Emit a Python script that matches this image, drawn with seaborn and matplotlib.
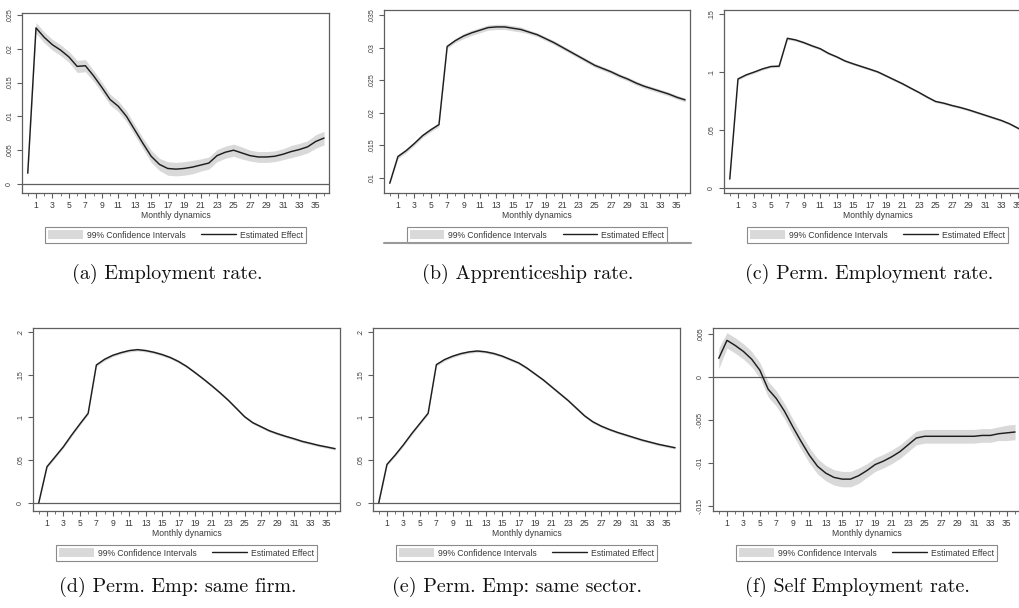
import matplotlib
matplotlib.use("Agg")
import matplotlib.pyplot as plt
from matplotlib.lines import Line2D
from matplotlib.patches import Patch
import seaborn as sns

sns.set_style("ticks")
plt.rcParams['font.family'] = ['Liberation Sans', 'DejaVu Sans']

# ---------------------------------------------------------------
# Data (month 0..36)
# ---------------------------------------------------------------
months = list(range(37))
label_months = list(range(1, 36, 2))
minor_months = list(range(0, 37, 2))

emp = [0.0016, 0.0231, 0.0217, 0.0206, 0.0198, 0.0188, 0.0174, 0.0175, 0.0160,
       0.0143, 0.0125, 0.0115, 0.0100, 0.0080, 0.0060, 0.0041, 0.0029, 0.0023,
       0.0022, 0.0023, 0.0025, 0.0028, 0.0031, 0.0042, 0.0047, 0.0050, 0.0046,
       0.0042, 0.0040, 0.0040, 0.0041, 0.0044, 0.0048, 0.0051, 0.0055, 0.0063,
       0.0068]
emp_ci = [0.0005, 0.0008, 0.0008, 0.0008, 0.0008, 0.0008, 0.0009, 0.0009, 0.0008,
          0.0008, 0.0008, 0.0008, 0.0008, 0.0008, 0.0008, 0.0009, 0.0009, 0.0010,
          0.0010, 0.0010, 0.0010, 0.0009, 0.0009, 0.0009, 0.0009, 0.0009, 0.0009,
          0.0008, 0.0008, 0.0008, 0.0008, 0.0008, 0.0009, 0.0009, 0.0009, 0.0010,
          0.0010]

apprent = [0.0092, 0.0133, 0.0142, 0.0153, 0.0165, 0.0174, 0.0182, 0.0302, 0.0311,
           0.0318, 0.0323, 0.0327, 0.0331, 0.0332, 0.0332, 0.0330, 0.0328, 0.0324,
           0.0320, 0.0314, 0.0308, 0.0301, 0.0294, 0.0287, 0.0280, 0.0273, 0.0268,
           0.0263, 0.0257, 0.0252, 0.0246, 0.0241, 0.0237, 0.0233, 0.0229, 0.0224,
           0.0220]
apprent_ci = [0.0002, 0.0003, 0.0003, 0.0003, 0.0003, 0.0003, 0.0003, 0.0003, 0.0003,
              0.0004, 0.0004, 0.0004, 0.0004, 0.0004, 0.0004, 0.0004, 0.0004, 0.0003,
              0.0003, 0.0003, 0.0003, 0.0003, 0.0003, 0.0003, 0.0003, 0.0003, 0.0003,
              0.0003, 0.0003, 0.0003, 0.0003, 0.0003, 0.0003, 0.0003, 0.0003, 0.0003,
              0.0003]

perm = [0.0077, 0.0940, 0.0975, 0.1000, 0.1027, 0.1047, 0.1050, 0.1290, 0.1276,
        0.1253, 0.1225, 0.1200, 0.1160, 0.1130, 0.1095, 0.1070, 0.1047, 0.1024,
        0.1000, 0.0966, 0.0932, 0.0898, 0.0860, 0.0823, 0.0783, 0.0746, 0.0731,
        0.0711, 0.0694, 0.0674, 0.0651, 0.0628, 0.0605, 0.0582, 0.0553, 0.0516,
        0.0480]
perm_ci = [0.0010, 0.0010, 0.0010, 0.0010, 0.0010, 0.0010, 0.0010, 0.0011, 0.0011,
           0.0011, 0.0011, 0.0011, 0.0010, 0.0010, 0.0010, 0.0010, 0.0010, 0.0010,
           0.0010, 0.0010, 0.0010, 0.0010, 0.0010, 0.0010, 0.0010, 0.0010, 0.0010,
           0.0010, 0.0010, 0.0010, 0.0010, 0.0010, 0.0010, 0.0010, 0.0010, 0.0010,
           0.0010]

same_firm = [0.0000, 0.0423, 0.0540, 0.0658, 0.0795, 0.0924, 0.1049, 0.1616, 0.1683,
             0.1730, 0.1761, 0.1785, 0.1796, 0.1785, 0.1765, 0.1738, 0.1703, 0.1656,
             0.1597, 0.1526, 0.1452, 0.1374, 0.1292, 0.1205, 0.1108, 0.1010, 0.0939,
             0.0892, 0.0845, 0.0810, 0.0779, 0.0751, 0.0720, 0.0697, 0.0673, 0.0654,
             0.0634]
same_firm_ci = [0.0012, 0.0015, 0.0015, 0.0015, 0.0015, 0.0015, 0.0015, 0.0016, 0.0016,
                0.0016, 0.0016, 0.0016, 0.0016, 0.0016, 0.0016, 0.0016, 0.0016, 0.0016,
                0.0015, 0.0015, 0.0015, 0.0015, 0.0015, 0.0015, 0.0015, 0.0015, 0.0015,
                0.0015, 0.0015, 0.0015, 0.0015, 0.0015, 0.0015, 0.0015, 0.0015, 0.0015,
                0.0015]

same_sector = [0.0000, 0.0450, 0.0560, 0.0680, 0.0810, 0.0930, 0.1050, 0.1620, 0.1680,
               0.1720, 0.1750, 0.1770, 0.1780, 0.1770, 0.1750, 0.1720, 0.1680, 0.1640,
               0.1580, 0.1510, 0.1440, 0.1360, 0.1280, 0.1200, 0.1110, 0.1020, 0.0950,
               0.0900, 0.0860, 0.0825, 0.0795, 0.0765, 0.0735, 0.0710, 0.0685, 0.0665,
               0.0645]
same_sector_ci = [0.0012, 0.0015, 0.0015, 0.0015, 0.0015, 0.0015, 0.0015, 0.0016, 0.0016,
                  0.0016, 0.0016, 0.0016, 0.0016, 0.0016, 0.0016, 0.0016, 0.0016, 0.0016,
                  0.0015, 0.0015, 0.0015, 0.0015, 0.0015, 0.0015, 0.0015, 0.0015, 0.0015,
                  0.0015, 0.0015, 0.0015, 0.0015, 0.0015, 0.0015, 0.0015, 0.0015, 0.0015,
                  0.0015]

self_emp = [0.0022, 0.0043, 0.0037, 0.0030, 0.0021, 0.0008, -0.0014, -0.0025, -0.0040,
            -0.0058, -0.0075, -0.0091, -0.0104, -0.0112, -0.0117, -0.0119, -0.0119,
            -0.0115, -0.0109, -0.0102, -0.0098, -0.0093, -0.0087, -0.0079, -0.0071,
            -0.0069, -0.0069, -0.0069, -0.0069, -0.0069, -0.0069, -0.0069, -0.0068,
            -0.0068, -0.0066, -0.0065, -0.0064]
self_emp_ci = [0.0012, 0.0009, 0.0009, 0.0009, 0.0009, 0.0009, 0.0009, 0.0009, 0.0009,
               0.0009, 0.0009, 0.0009, 0.0009, 0.0009, 0.0009, 0.0009, 0.0009, 0.0009,
               0.0008, 0.0008, 0.0008, 0.0008, 0.0008, 0.0008, 0.0008, 0.0008, 0.0008,
               0.0008, 0.0008, 0.0008, 0.0008, 0.0008, 0.0008, 0.0008, 0.0008, 0.0009,
               0.0009]

yticks_a = [0, 0.005, 0.01, 0.015, 0.02, 0.025]
ylabels_a = ["0", ".005", ".01", ".015", ".02", ".025"]
yticks_b = [0.01, 0.015, 0.02, 0.025, 0.03, 0.035]
ylabels_b = [".01", ".015", ".02", ".025", ".03", ".035"]
yticks_c = [0, 0.05, 0.1, 0.15]
ylabels_c = ["0", ".05", ".1", ".15"]
yticks_de = [0, 0.05, 0.1, 0.15, 0.2]
ylabels_de = ["0", ".05", ".1", ".15", ".2"]
yticks_f = [-0.015, -0.01, -0.005, 0, 0.005]
ylabels_f = ["-.015", "-.01", "-.005", "0", ".005"]

captions = ["(a) Employment rate.", "(b) Apprenticeship rate.",
            "(c) Perm. Employment rate.", "(d) Perm. Emp: same firm.",
            "(e) Perm. Emp: same sector.", "(f) Self Employment rate."]

# ---------------------------------------------------------------
# Layout / style
# ---------------------------------------------------------------
LINE = '#1e1e1e'
BAND = '#d9d9d9'
FRAME = '#5e5e5e'
TEXT = '#3a3a3a'
FS = 6.2       # horizontal small text
FS_Y = 5.0     # rotated y tick labels (the source graphs are squashed vertically)
W, H = 1020, 608

# (left, top, right, bottom) in pixels, ylim, caption centre x, caption baseline y
panels = [
    (emp, emp_ci, yticks_a, ylabels_a, (22, 13, 329, 193), (-0.00133, 0.0253), 167, 279),
    (apprent, apprent_ci, yticks_b, ylabels_b, (384, 10, 690, 193), (0.0077, 0.0358), 528, 279),
    (perm, perm_ci, yticks_c, ylabels_c, (724, 10, 1031, 193), (-0.0043, 0.1534), 869, 279),
    (same_firm, same_firm_ci, yticks_de, ylabels_de, (33, 328, 340, 511), (-0.0097, 0.205), 178, 592),
    (same_sector, same_sector_ci, yticks_de, ylabels_de, (373, 328, 680, 511), (-0.0097, 0.205), 517, 592),
    (self_emp, self_emp_ci, yticks_f, ylabels_f, (713, 328, 1020, 511), (-0.01562, 0.00574), 857, 592),
]

fig = plt.figure(figsize=(W / 100, H / 100), dpi=100)
fig.patch.set_facecolor('white')

legend_handles = [Patch(facecolor=BAND, edgecolor='none', label='99% Confidence Intervals'),
                  Line2D([], [], color=LINE, lw=1.0, label='Estimated Effect')]

for (vals, ci, yt, yl, box, ylim, cap_x, cap_y), cap in zip(panels, captions):
    left, top, right, bottom = box
    ax = fig.add_axes([left / W, 1 - bottom / H, (right - left) / W, (bottom - top) / H])

    lo = [v - c for v, c in zip(vals, ci)]
    hi = [v + c for v, c in zip(vals, ci)]
    ax.fill_between(months, lo, hi, color=BAND, lw=0, zorder=1)
    sns.lineplot(x=months, y=vals, ax=ax, color=LINE, linewidth=1.05, zorder=3)

    ax.set_xlim(-0.7, 36.6)
    ax.set_ylim(*ylim)
    if ylim[0] < 0 < ylim[1]:
        ax.axhline(0, color=FRAME, lw=0.9, zorder=2)

    ax.set_xticks(label_months)
    ax.set_xticks(minor_months, minor=True)
    ax.set_yticks(yt, labels=yl, rotation=90, va='center')
    ax.tick_params(axis='both', which='major', direction='out', length=3.5, width=0.8,
                   color=FRAME, labelsize=FS, labelcolor=TEXT, pad=2)
    ax.tick_params(axis='y', which='major', labelsize=FS_Y, pad=3)
    ax.tick_params(axis='x', which='minor', direction='out', length=2, width=0.6, color=FRAME)
    for sp in ax.spines.values():
        sp.set_visible(True)
        sp.set_color(FRAME)
        sp.set_linewidth(0.9)

    ax.set_xlabel('Monthly dynamics', fontsize=FS, color=TEXT, labelpad=1)
    ax.set_ylabel('')

    height_px = bottom - top
    ax.legend(handles=legend_handles, loc='upper center',
              bbox_to_anchor=(0.5, -30 / height_px), ncol=2, fontsize=FS,
              frameon=True, fancybox=False, edgecolor='#8a8a8a', framealpha=1,
              handlelength=4.0, handleheight=1.15, handletextpad=0.5,
              columnspacing=1.8, borderpad=0.35, labelcolor=TEXT)
    ax.get_legend().get_frame().set_linewidth(0.8)

    fig.text(cap_x / W, 1 - cap_y / H, cap, family='cmr10', fontsize=14.4,
             ha='center', va='baseline', color='#111111')

# thin rule under panel (b)'s legend, as in the source page
fig.add_artist(Line2D([384 / W, 691 / W], [1 - 243 / H, 1 - 243 / H],
                      transform=fig.transFigure, color='#9a9a9a', lw=1.5))

fig.savefig('out.png', dpi=100)
